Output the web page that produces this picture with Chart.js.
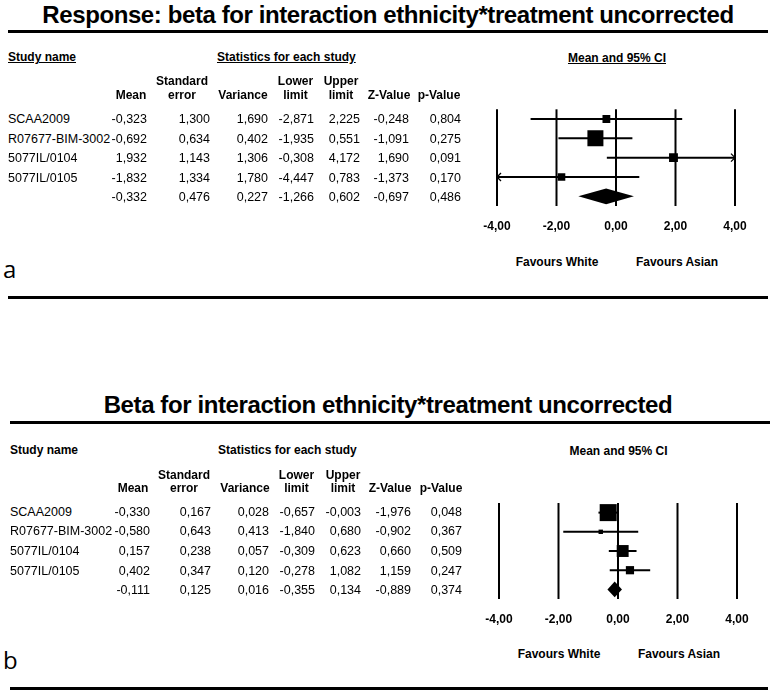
<!DOCTYPE html>
<html lang="en">
<head>
<meta charset="UTF-8">
<title>Beta for interaction ethnicity*treatment uncorrected</title>
<script src="https://cdn.jsdelivr.net/npm/chart.js"></script>
<style>
  body { margin: 0; background: #fff; }
  #page { position: relative; width: 773px; height: 693px; overflow: hidden;
          font-family: "Liberation Sans", Arial, sans-serif; color: #000; }
  .t { position: absolute; white-space: nowrap; }
  .title { font-size: 24px; font-weight: bold; letter-spacing: -0.4px; }
  .head { font-size: 12px; font-weight: bold; }
  .cell { font-size: 12.5px; }
  .letter { font-family: "Open Sans", sans-serif; font-size: 24px; }
  .rule { position: absolute; height: 3px; background: #000; }
  .plot { position: absolute; width: 303px; height: 140px; }
</style>
</head>
<body>
<div id="page">
  <div class="plot" id="wrapA" style="left:470px; top:98px;"><canvas id="plotA"></canvas></div>
  <div class="plot" id="wrapB" style="left:470px; top:491px;"><canvas id="plotB"></canvas></div>
</div>
<script>
// ---- data (last row = pooled estimate) ----
const studies = ['SCAA2009', 'R07677-BIM-3002', '5077IL/0104', '5077IL/0105', ''];

// panel a: Response
const meanA  = [-0.323, -0.692, 1.932, -1.832, -0.332];
const seA    = [1.300, 0.634, 1.143, 1.334, 0.476];
const varA   = [1.690, 0.402, 1.306, 1.780, 0.227];
const lowerA = [-2.871, -1.935, -0.308, -4.447, -1.266];
const upperA = [2.225, 0.551, 4.172, 0.783, 0.602];
const zA     = [-0.248, -1.091, 1.690, -1.373, -0.697];
const pA     = [0.804, 0.275, 0.091, 0.170, 0.486];

// panel b
const meanB  = [-0.330, -0.580, 0.157, 0.402, -0.111];
const seB    = [0.167, 0.643, 0.238, 0.347, 0.125];
const varB   = [0.028, 0.413, 0.057, 0.120, 0.016];
const lowerB = [-0.657, -1.840, -0.309, -0.278, -0.355];
const upperB = [-0.003, 0.680, 0.623, 1.082, 0.134];
const zB     = [-1.976, -0.902, 0.660, 1.159, -0.889];
const pB     = [0.048, 0.367, 0.509, 0.247, 0.374];

const tickValues = [-4, -2, 0, 2, 4];
const colHeads = [['', 'Mean'], ['Standard', 'error'], ['', 'Variance'], ['Lower', 'limit'],
                  ['Upper', 'limit'], ['', 'Z-Value'], ['', 'p-Value']];

const page = document.getElementById('page');
const fmt = v => v.toFixed(3).replace('.', ',');

// place a text so its cap-height middle sits at yc
function put(text, x, yc, cls, align, extra) {
  const el = document.createElement('div');
  el.className = 't ' + cls;
  el.textContent = text;
  const lh = 20;
  el.style.lineHeight = lh + 'px';
  el.style.top = (yc - lh / 2) + 'px';
  if (align === 'left') el.style.left = x + 'px';
  else if (align === 'right') { el.style.left = (x - 300) + 'px'; el.style.width = '300px'; el.style.textAlign = 'right'; }
  else { el.style.left = (x - 500) + 'px'; el.style.width = '1000px'; el.style.textAlign = 'center'; }
  if (extra) Object.assign(el.style, extra);
  page.appendChild(el);
}

function rule(x1, x2, y) {
  const el = document.createElement('div');
  el.className = 'rule';
  el.style.left = x1 + 'px';
  el.style.width = (x2 - x1) + 'px';
  el.style.top = y + 'px';
  page.appendChild(el);
}

// Chart.js plugin: reference lines, CI whiskers (with arrows when clipped) and pooled diamond
const forestPlugin = {
  id: 'forest',
  beforeDatasetsDraw(chart, args, opts) {
    const { ctx, chartArea } = chart;
    const x = chart.scales.x, y = chart.scales.y;
    const n = opts.mean.length - 1;
    ctx.save();
    ctx.strokeStyle = '#000';
    ctx.fillStyle = '#000';
    ctx.lineWidth = 2;

    tickValues.forEach(v => {
      const px = x.getPixelForValue(v);
      ctx.beginPath();
      ctx.moveTo(px, chartArea.top);
      ctx.lineTo(px, chartArea.bottom);
      ctx.stroke();
    });

    for (let i = 0; i < n; i++) {
      const lo = Math.max(opts.lower[i], x.min);
      const hi = Math.min(opts.upper[i], x.max);
      const py = y.getPixelForValue(i);
      const x1 = x.getPixelForValue(lo), x2 = x.getPixelForValue(hi);
      ctx.lineWidth = 2;
      ctx.beginPath();
      ctx.moveTo(x1, py);
      ctx.lineTo(x2, py);
      ctx.stroke();
      ctx.lineWidth = 1.3;
      if (opts.upper[i] > x.max) {
        ctx.beginPath();
        ctx.moveTo(x2 - 4, py - 4); ctx.lineTo(x2, py); ctx.lineTo(x2 - 4, py + 4);
        ctx.stroke();
      }
      if (opts.lower[i] < x.min) {
        ctx.beginPath();
        ctx.moveTo(x1 + 4, py - 4); ctx.lineTo(x1, py); ctx.lineTo(x1 + 4, py + 4);
        ctx.stroke();
      }
    }

    const yc = y.getPixelForValue(n);
    const h = Math.abs(y.getPixelForValue(n + 0.41) - yc);
    ctx.beginPath();
    ctx.moveTo(x.getPixelForValue(opts.lower[n]), yc);
    ctx.lineTo(x.getPixelForValue(opts.mean[n]), yc - h);
    ctx.lineTo(x.getPixelForValue(opts.upper[n]), yc);
    ctx.lineTo(x.getPixelForValue(opts.mean[n]), yc + h);
    ctx.closePath();
    ctx.fill();
    ctx.restore();
  }
};

function makePlot(id, mean, lower, upper, variance, maxSide, padLeft, padRight) {
  const n = mean.length - 1;
  const w = variance.slice(0, n).map(v => 1 / v);
  const wMax = Math.max(...w);
  // square side grows with sqrt of the inverse-variance weight
  const radii = w.map(wi => maxSide * Math.sqrt(wi / wMax) / (2 * Math.SQRT1_2));

  new Chart(document.getElementById(id), {
    type: 'scatter',
    data: {
      datasets: [{
        data: mean.slice(0, n).map((m, i) => ({ x: m, y: i })),
        pointStyle: 'rect',
        pointRadius: radii,
        backgroundColor: '#000',
        borderWidth: 0
      }]
    },
    options: {
      responsive: true,
      maintainAspectRatio: false,
      animation: false,
      events: [],
      layout: { padding: { left: padLeft, right: padRight, top: 10, bottom: 2 } },
      plugins: {
        legend: { display: false },
        tooltip: { enabled: false },
        forest: { mean: mean, lower: lower, upper: upper }
      },
      scales: {
        x: {
          type: 'linear',
          min: -4,
          max: 4,
          afterBuildTicks: s => { s.ticks = tickValues.map(v => ({ value: v })); },
          afterFit: s => { s.height = 30; },
          grid: { display: false, drawTicks: false },
          border: { display: false },
          ticks: {
            padding: 13,
            color: '#000',
            font: { family: 'Liberation Sans', size: 12, weight: 'bold' },
            callback: v => Number(v).toFixed(2).replace('.', ',')
          }
        },
        y: { type: 'linear', min: -0.5, max: n + 0.5, reverse: true, display: false }
      }
    },
    plugins: [forestPlugin]
  });
}

function buildPanel(p) {
  put(p.title, 388, p.titleY, 'title', 'center');
  rule(p.ruleX[0], p.ruleX[1], p.ruleY);
  const ul = p.underline ? { textDecoration: 'underline' } : null;
  put('Study name', p.nameX, p.headY, 'head', 'left', ul);
  put('Statistics for each study', p.statsX, p.headY, 'head', 'left', ul);
  put('Mean and 95% CI', p.ciX, p.headY + 1, 'head', 'center', ul);
  colHeads.forEach((hd, c) => {
    if (hd[0]) put(hd[0], p.colCenter[c], p.head1Y, 'head', 'center');
    put(hd[1], p.colCenter[c], p.head2Y, 'head', 'center');
  });
  const cols = [p.mean, p.se, p.variance, p.lower, p.upper, p.z, p.p];
  studies.forEach((s, i) => {
    const yc = p.rowY0 + p.rowStep * i;
    if (s) put(s, p.nameX, yc, 'cell', 'left');
    cols.forEach((arr, c) => put(fmt(arr[i]), p.colRight[c], yc, 'cell', 'right'));
  });
  put('Favours White', p.favX[0], p.favY, 'head', 'center');
  put('Favours Asian', p.favX[1], p.favY, 'head', 'center');
  put(p.letter, 3, p.letterY, 'letter', 'left');
  rule(p.ruleX[0], p.endRuleX, p.endRuleY);
}

buildPanel({
  title: 'Response: beta for interaction ethnicity*treatment uncorrected',
  titleY: 14.7, ruleY: 29.5, ruleX: [8, 768], endRuleX: 768, endRuleY: 295.5,
  underline: true, nameX: 8, statsX: 217, ciX: 617, headY: 57,
  head1Y: 81, head2Y: 95,
  colCenter: [131, 182, 243, 295.5, 341, 389, 439],
  colRight: [147, 210, 268, 314, 360, 409, 461],
  rowY0: 119, rowStep: 19.5,
  mean: meanA, se: seA, variance: varA, lower: lowerA, upper: upperA, z: zA, p: pA,
  favX: [557, 677], favY: 262, letter: 'a', letterY: 268.7
});

buildPanel({
  title: 'Beta for interaction ethnicity*treatment uncorrected',
  titleY: 404.7, ruleY: 420.5, ruleX: [10, 770], endRuleX: 768, endRuleY: 686.5,
  underline: false, nameX: 10, statsX: 218, ciX: 618.5, headY: 450,
  head1Y: 474.5, head2Y: 488,
  colCenter: [133, 184, 245, 296.5, 343, 390, 441],
  colRight: [150, 211, 269, 315, 361, 411, 462],
  rowY0: 511.7, rowStep: 19.6,
  mean: meanB, se: seB, variance: varB, lower: lowerB, upper: upperB, z: zB, p: pB,
  favX: [559, 679], favY: 654, letter: 'b', letterY: 659.7
});

makePlot('plotA', meanA, lowerA, upperA, varA, 16, 27, 38);
makePlot('plotB', meanB, lowerB, upperB, varB, 17, 29, 36);
</script>
</body>
</html>
